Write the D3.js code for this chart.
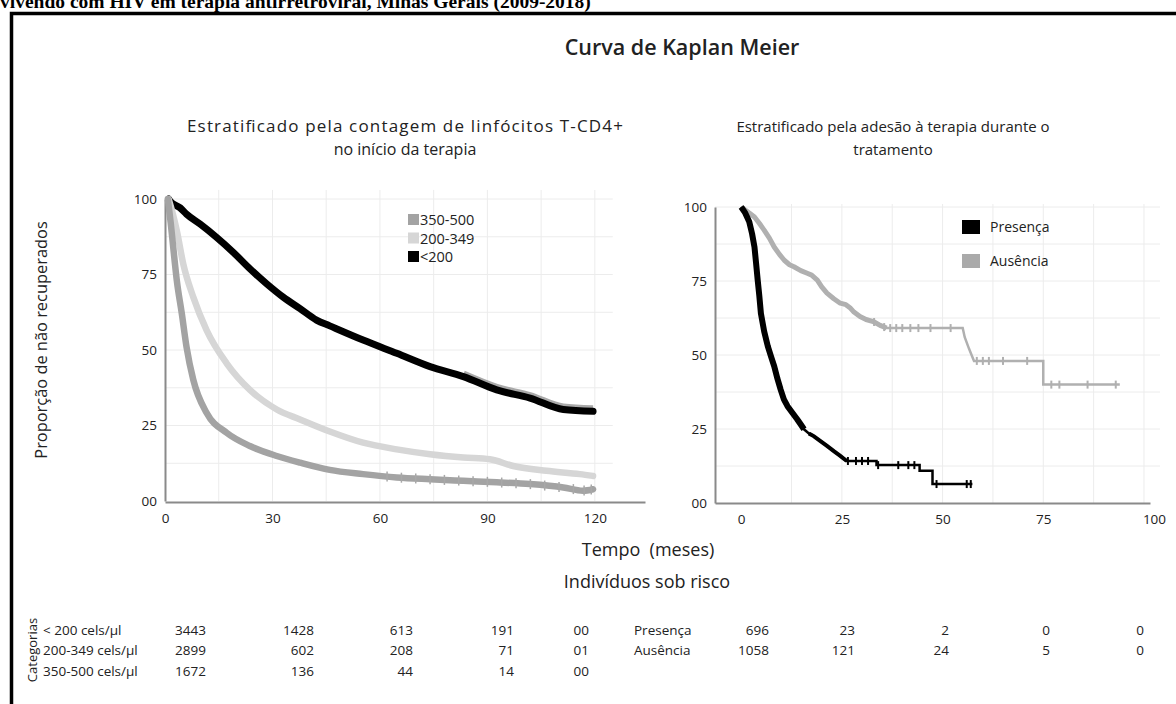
<!DOCTYPE html>
<html><head><meta charset="utf-8">
<script src="https://cdn.jsdelivr.net/npm/d3@7"></script>
<style>
html,body{margin:0;padding:0;background:#fff;}
svg{display:block;}
text{font-family:"Open Sans",sans-serif;fill:#222;}
</style></head>
<body>
<svg id="chart" width="1176" height="704"></svg>
<script>
// ---------------- DATA ----------------
const cd4Series = ["350-500","200-349","<200"];
// [months, % not recovered]
const cd4_350_500 = [[0.8,100],[1.6,92],[2.3,84],[3.3,73],[4.7,62],[6,51.1],[7.9,40.1],[11.6,29.2],[17.2,22.6],[23.7,18.2],[31.2,14.9],[37.7,12.7],[46,10.3],[55.3,8.9],[64.7,7.8],[74,7.2],[83.3,6.7],[92.6,6.2],[101.9,5.6],[111.2,4.5],[116.7,3.4],[119.5,3.9]];
const cd4_200_349 = [[1,100],[2.2,95],[3.3,89.5],[5.1,78.5],[7.9,67.5],[11.6,56.6],[17.2,45.6],[23.7,36.8],[31.2,30.3],[37.7,27],[46,23],[55.3,19.3],[64.7,17.1],[74,15.5],[83.3,14.4],[90.7,13.8],[97.2,11.6],[106.5,10],[115.8,8.9],[119.5,8.3]];
const cd4_lt200 = [[1,100],[1.4,99.3],[4.2,97.1],[6,95],[9.8,91.7],[14.4,87.3],[19.1,82.3],[23.7,76.9],[28.4,71.9],[33,67.5],[37.7,63.7],[42.3,59.9],[46,58],[55.3,53.3],[64.7,48.9],[74,44.5],[83.3,41.2],[92.6,36.8],[101.9,34.1],[111.2,30.3],[119.5,29.7]];
const cd4Censor350 = [62,66,70,74,78,82,86,90,94,98,102,106,110,114,117,119];

const adhSeries = ["Presença","Ausência"];
const adhPresenca = [[0,100],[1,98],[2,95],[2.7,91],[3.3,86.5],[3.7,81],[4.1,75.3],[4.5,70],[4.9,64],[5.7,58],[6.6,53],[7.4,49.5],[8.2,46.2],[9,42],[9.8,38.3],[10.6,35],[11.5,32.7],[12.7,30.5],[13.9,28.3],[14.8,26.5],[15.6,24.9],[16.8,23.5],[18,22.6],[19.6,21],[21.3,19.3],[23,17.5],[24.6,15.9],[26.2,14.2],[33.6,14.2],[33.6,12.8],[44.3,12.8],[44.3,10.9],[47.5,10.9],[47.5,6.4],[57.4,6.4]];
const adhAusencia = [[0,100],[2,98],[3.3,96.6],[4.5,94.5],[5.7,92.2],[7,89.5],[8.2,86.5],[9.5,84],[10.7,82],[12,80.5],[13.1,79.8],[14.8,78.5],[16.4,77.6],[17.5,77],[18.9,75.3],[20,73],[21.3,70.9],[23,69],[24.6,67.5],[26,67],[27,66],[28,64.5],[29.5,63],[31,62],[32.8,61.3],[34.5,60],[36.1,59.1],[55,59.1],[55.5,56],[56.6,52],[57.8,48],[75,48],[75,40],[94,40]];
const censorPresenca = [26.5,28.5,30,31.5,34,39,41.5,43,48.5,56,57];
const censorAusencia = [33,35.5,37,38.5,40,42,44,47,52,58.5,60,61.5,65,71,77,79,86,93];

const leftXTicks = [0,30,60,90,120];
const rightXTicks = [0,25,50,75,100];
const yTicks = [0,25,50,75,100];

const cd4RowLabels = ["< 200 cels/µl","200-349 cels/µl","350-500 cels/µl"];
const cd4Risk = [["3443","1428","613","191","00"],["2899","602","208","71","01"],["1672","136","44","14","00"]];
const adhRowLabels = ["Presença","Ausência"];
const adhRisk = [["696","23","2","0","0"],["1058","121","24","5","0"]];

// ---------------- LAYOUT ----------------
const svg = d3.select("#chart");
svg.append("rect").attr("width",1176).attr("height",704).attr("fill","#fff");

// top cut-off caption
svg.append("text").attr("x",0).attr("y",7.5)
  .style("font-family","'Liberation Serif',serif").style("font-weight","bold").style("font-size","19.5px").style("fill","#000")
  .text("vivendo com HIV em terapia antirretroviral, Minas Gerais (2009-2018)");
// frame
svg.append("path").attr("d","M11.5,720 L11.5,13.5 L1190,13.5").attr("fill","none").attr("stroke","#000").attr("stroke-width",3.5);

svg.append("text").attr("x",682).attr("y",55).attr("text-anchor","middle")
  .style("font-size","21.5px").style("font-weight","600").text("Curva de Kaplan Meier");

svg.append("text").attr("x",405).attr("y",132).attr("text-anchor","middle").style("font-size","17px")
  .attr("textLength",436).attr("lengthAdjust","spacing")
  .text("Estratificado pela contagem de linfócitos T-CD4+");
svg.append("text").attr("x",405).attr("y",155).attr("text-anchor","middle").style("font-size","16px")
  .text("no início da terapia");
svg.append("text").attr("x",893).attr("y",132).attr("text-anchor","middle").style("font-size","15px")
  .text("Estratificado pela adesão à terapia durante o");
svg.append("text").attr("x",893).attr("y",155).attr("text-anchor","middle").style("font-size","15px")
  .text("tratamento");

svg.append("text").attr("transform","translate(47,340) rotate(-90)").attr("text-anchor","middle")
  .style("font-size","16.4px").text("Proporção de não recuperados");

// scales
const lx = d3.scaleLinear().domain([0,134]).range([165,645]);
const ly = d3.scaleLinear().domain([0,100]).range([501,199]);
const rx = d3.scaleLinear().domain([-6.5,101.5]).range([715,1150]);
const ry = d3.scaleLinear().domain([0,100]).range([503,207]);

const gridColor = "#ececec";
// left grid
const lg = svg.append("g");
lg.selectAll("line.v").data(d3.range(15,126,15)).join("line")
  .attr("x1",d=>lx(d)).attr("x2",d=>lx(d)).attr("y1",ly(103)).attr("y2",ly(0)).attr("stroke",gridColor);
lg.selectAll("line.h").data(d3.range(12.5,101,12.5)).join("line")
  .attr("x1",lx(0)).attr("x2",lx(125)).attr("y1",d=>ly(d)).attr("y2",d=>ly(d)).attr("stroke",gridColor);
// right grid
const rg = svg.append("g");
rg.selectAll("line.v").data(d3.range(12.5,101,12.5)).join("line")
  .attr("x1",d=>rx(d)).attr("x2",d=>rx(d)).attr("y1",ry(101)).attr("y2",ry(0)).attr("stroke",gridColor);
rg.selectAll("line.h").data(d3.range(12.5,101,12.5)).join("line")
  .attr("x1",rx(-6.5)).attr("x2",rx(104)).attr("y1",d=>ry(d)).attr("y2",d=>ry(d)).attr("stroke",gridColor);

function styleAxis(g){
  g.select(".domain").attr("stroke","#8a8a8a").attr("stroke-width",2);
  g.selectAll(".tick line").remove();
  g.selectAll(".tick text").style("font-family","'Open Sans',sans-serif").style("font-size","13.5px").attr("fill","#333");
}
const fmtY = d => d===0 ? "00" : String(d);
svg.append("g").attr("transform",`translate(${lx(0)},0)`)
  .call(d3.axisLeft(ly).tickValues(yTicks).tickFormat(fmtY).tickSize(0).tickPadding(8)).call(styleAxis);
svg.append("g").attr("transform",`translate(0,${ly(0)+1})`)
  .call(d3.axisBottom(lx).tickValues(leftXTicks).tickSize(0).tickPadding(11)).call(styleAxis);
svg.append("g").attr("transform",`translate(${rx(-6.5)},0)`)
  .call(d3.axisLeft(ry).tickValues(yTicks).tickFormat(fmtY).tickSize(0).tickPadding(8)).call(styleAxis);
const rxAxis = svg.append("g").attr("transform",`translate(0,${ry(0)})`)
  .call(d3.axisBottom(rx).tickValues(rightXTicks).tickSize(0).tickPadding(11)).call(styleAxis);
rxAxis.selectAll(".tick text").filter(d=>d===100).attr("dx",10);

// left curves
const lline = d3.line().x(d=>lx(d[0])).y(d=>ly(d[1])).curve(d3.curveMonotoneX);
const cd4Colors = {"350-500":"#a3a3a3","200-349":"#d6d6d6","<200":"#000"};
const cd4Data = {"350-500":cd4_350_500,"200-349":cd4_200_349,"<200":cd4_lt200};
svg.append("path").datum(cd4_lt200.filter(d=>d[0]>=80)).attr("d",lline).attr("fill","none").attr("stroke","#9a9a9a")
  .attr("stroke-width",7).attr("transform","translate(0,-2.5)").attr("opacity",0.85);
["<200","200-349","350-500"].forEach(k=>{
  svg.append("path").datum(cd4Data[k]).attr("d",lline).attr("fill","none")
    .attr("stroke",cd4Colors[k]).attr("stroke-width",k==="<200"?7:6.5).attr("stroke-linejoin","round").attr("stroke-linecap","round");
});
// censor ticks on 350-500
function interp(series,t){
  for(let i=1;i<series.length;i++){ if(series[i][0]>=t){ const a=series[i-1],b=series[i]; const f=(t-a[0])/(b[0]-a[0]||1); return a[1]+f*(b[1]-a[1]); } }
  return series[series.length-1][1];
}
svg.append("g").selectAll("line").data(cd4Censor350).join("line")
  .attr("x1",d=>lx(d)).attr("x2",d=>lx(d)).attr("y1",d=>ly(interp(cd4_350_500,d))-5).attr("y2",d=>ly(interp(cd4_350_500,d))+5)
  .attr("stroke","#a8a8a8").attr("stroke-width",1.5);

// left legend
const lleg = svg.append("g").attr("transform","translate(408,220)");
cd4Series.forEach((k,i)=>{
  lleg.append("rect").attr("x",0).attr("y",i*18.5-6).attr("width",11).attr("height",11).attr("fill",cd4Colors[k]);
  lleg.append("text").attr("x",12).attr("y",i*18.5+5).style("font-size","14.5px").text(k);
});

// right curves
const rline = d3.line().x(d=>rx(d[0])).y(d=>ry(d[1]));
svg.append("path").datum(adhAusencia).attr("d",rline).attr("fill","none").attr("stroke","#b0b0b0").attr("stroke-width",2.5);
svg.append("path").datum(adhAusencia.filter(d=>d[0]<=37)).attr("d",rline).attr("fill","none").attr("stroke","#b0b0b0").attr("stroke-width",5).attr("stroke-linejoin","round");
svg.append("g").selectAll("line").data(censorAusencia).join("line")
  .attr("x1",d=>rx(d)).attr("x2",d=>rx(d)).attr("y1",d=>ry(interp(adhAusencia,d))-4).attr("y2",d=>ry(interp(adhAusencia,d))+4)
  .attr("stroke","#b0b0b0").attr("stroke-width",2);
svg.append("path").datum(adhPresenca).attr("d",rline).attr("fill","none").attr("stroke","#000").attr("stroke-width",2.5);
svg.append("path").datum(adhPresenca.filter(d=>d[0]<=16)).attr("d",rline).attr("fill","none").attr("stroke","#000").attr("stroke-width",6).attr("stroke-linejoin","round");
svg.append("path").datum(adhPresenca.filter(d=>d[0]>=16 && d[0]<=27)).attr("d",rline).attr("fill","none").attr("stroke","#000").attr("stroke-width",4);
svg.append("g").selectAll("line").data(censorPresenca).join("line")
  .attr("x1",d=>rx(d)).attr("x2",d=>rx(d)).attr("y1",d=>ry(interp(adhPresenca,d))-4).attr("y2",d=>ry(interp(adhPresenca,d))+4)
  .attr("stroke","#000").attr("stroke-width",2);

// right legend
const adhColors = {"Presença":"#000","Ausência":"#aaa"};
const rleg = svg.append("g").attr("transform","translate(962,220)");
adhSeries.forEach((k,i)=>{
  rleg.append("rect").attr("x",0).attr("y",i*34).attr("width",18).attr("height",14).attr("fill",adhColors[k]);
  rleg.append("text").attr("x",28).attr("y",i*34+12).style("font-size","14px").text(k);
});

// axis titles
svg.append("text").attr("x",648).attr("y",556).attr("text-anchor","middle").style("font-size","18px")
  .text("Tempo\u00a0 (meses)");
svg.append("text").attr("x",647).attr("y",588).attr("text-anchor","middle").style("font-size","18px")
  .text("Indivíduos sob risco");

// risk tables
svg.append("text").attr("transform","translate(37,650) rotate(-90)").attr("text-anchor","middle").style("font-size","13px").text("Categorias");
const rowYL = [635,655,676];
const colL = [206,314,413,514,589];
cd4RowLabels.forEach((lab,i)=>{
  svg.append("text").attr("x",43).attr("y",rowYL[i]).style("font-size","13.5px").text(lab);
  cd4Risk[i].forEach((v,j)=>{
    svg.append("text").attr("x",colL[j]).attr("y",rowYL[i]).attr("text-anchor","end").style("font-size","13.5px").text(v);
  });
});
const rowYR = [635,655];
const colR = [769,855,949,1050,1144];
adhRowLabels.forEach((lab,i)=>{
  svg.append("text").attr("x",634).attr("y",rowYR[i]).style("font-size","13.5px").text(lab);
  adhRisk[i].forEach((v,j)=>{
    svg.append("text").attr("x",colR[j]).attr("y",rowYR[i]).attr("text-anchor","end").style("font-size","13.5px").text(v);
  });
});
</script>
</body></html>
